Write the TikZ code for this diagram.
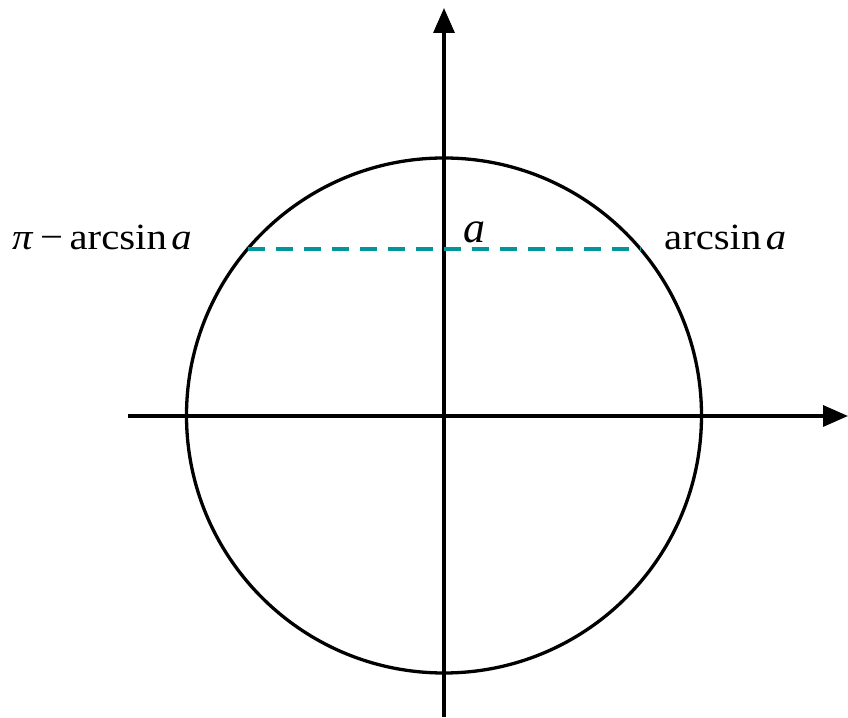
\documentclass[tikz,border=0pt]{standalone}
\usepackage{fontspec}
\setmainfont{Liberation Serif}
\usetikzlibrary{arrows.meta}
\definecolor{dashteal}{RGB}{0,150,155}
\tikzset{
  axis/.style={line width=3.3pt,-{Triangle[length=25pt,width=21pt]}},
  circ/.style={line width=3.3pt},
  dashline/.style={line width=3.3pt,dashteal,dash pattern=on 17pt off 11pt},
  lbl/.style={inner sep=0pt,anchor=base west,font=\fontsize{37}{37}\selectfont}
}
\begin{document}
\begin{tikzpicture}[x=1pt,y=1pt]
\useasboundingbox (0,0) rectangle (848,717);
\coordinate (O) at (444,301.5);
\coordinate (xs) at (128,301);
\coordinate (xe) at (848,301);
\coordinate (ys) at (444,0);
\coordinate (ye) at (444,709);
\coordinate (dl) at (247.7,468);
\coordinate (dr) at (641.3,468);
\draw[axis] (xs) -- (xe);
\draw[axis] (ys) -- (ye);
\draw[circ] (O) circle[radius=257.5];
\draw[dashline] (dl) -- (dr);
\node[lbl] (L) at (12,467) {\scalebox{1.1}[1]{\textit{π}\kern6pt−\kern6pt arcsin\kern4pt\textit{a}}};
\node[lbl] (R) at (664,467) {\scalebox{1.1}[1]{arcsin\kern4pt\textit{a}}};
\node[lbl,font=\fontsize{44}{44}\selectfont] (A) at (463,474) {\textit{a}};
\end{tikzpicture}
\end{document}
